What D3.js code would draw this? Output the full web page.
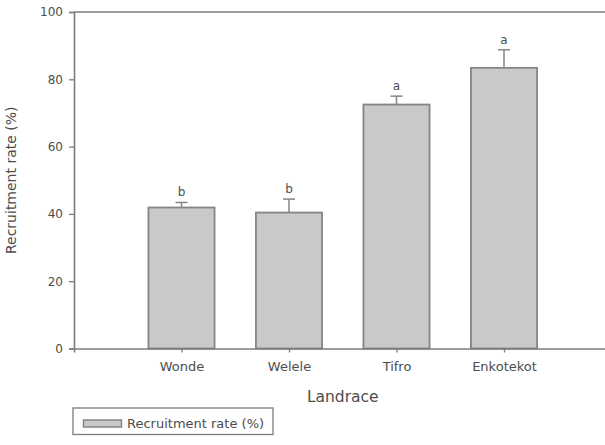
<!DOCTYPE html>
<html>
<head>
<meta charset="utf-8">
<script src="https://cdn.jsdelivr.net/npm/d3@7"></script>
<style>
  html, body { margin: 0; padding: 0; background: #fff; }
  svg { display: block; }
  text { font-family: "DejaVu Sans", sans-serif; fill: #4d4d4d; }
</style>
</head>
<body>
<svg id="chart" width="605" height="445"></svg>
<script>
// Recruitment rate per landrace (mean, upper standard error) and significance letters
const landraces = ["Wonde", "Welele", "Tifro", "Enkotekot"];
const recruitment = [41.9, 40.4, 72.5, 83.4];
const stdError = [1.5, 4.0, 2.5, 5.4];
const groupLetters = ["b", "b", "a", "a"];
const yTicks = [0, 20, 40, 60, 80, 100];
const seriesName = "Recruitment rate (%)";

const svg = d3.select("#chart");

const axisColor = "#7c7c7c";
const barFill = "#c9c9cb";
const barStroke = "#858585";

// Category positions 1..4 on a 0..5 axis
const x = d3.scaleLinear().domain([0, landraces.length + 1]).range([74, 611.5]);
const y = d3.scaleLinear().domain([0, 100]).range([348.5, 12]);
const unit = x(1) - x(0);
const barW = unit * 0.615;

// frame: top line
svg.append("line")
  .attr("x1", x(0)).attr("x2", x(landraces.length + 1))
  .attr("y1", y(100)).attr("y2", y(100))
  .attr("stroke", axisColor).attr("stroke-width", 1.6);

// bars
const g = svg.append("g");
g.selectAll("rect.bar").data(recruitment).join("rect")
  .attr("class", "bar")
  .attr("x", (d, i) => x(i + 1) - barW / 2)
  .attr("width", barW)
  .attr("y", d => y(d))
  .attr("height", d => y(0) - y(d))
  .attr("fill", barFill)
  .attr("stroke", barStroke)
  .attr("stroke-width", 1.8);

// upper error bars
g.selectAll("line.err").data(recruitment).join("line")
  .attr("class", "err")
  .attr("x1", (d, i) => x(i + 1)).attr("x2", (d, i) => x(i + 1))
  .attr("y1", d => y(d)).attr("y2", (d, i) => y(d + stdError[i]))
  .attr("stroke", barStroke).attr("stroke-width", 1.5);
g.selectAll("line.cap").data(recruitment).join("line")
  .attr("class", "cap")
  .attr("x1", (d, i) => x(i + 1) - 6).attr("x2", (d, i) => x(i + 1) + 6)
  .attr("y1", (d, i) => y(d + stdError[i])).attr("y2", (d, i) => y(d + stdError[i]))
  .attr("stroke", barStroke).attr("stroke-width", 1.5);

// significance letters
g.selectAll("text.letter").data(recruitment).join("text")
  .attr("class", "letter")
  .attr("x", (d, i) => x(i + 1))
  .attr("y", (d, i) => y(d + stdError[i]) - 6)
  .attr("text-anchor", "middle")
  .attr("font-size", 12)
  .text((d, i) => groupLetters[i]);

// y axis
const yAxis = svg.append("g")
  .attr("transform", `translate(${x(0)},0)`)
  .call(d3.axisLeft(y).tickValues(yTicks).tickSize(5).tickPadding(6).tickFormat(d3.format("d")));
yAxis.select(".domain").attr("stroke", axisColor).attr("stroke-width", 1.6);
yAxis.selectAll(".tick line").attr("stroke", axisColor).attr("stroke-width", 1.3);
yAxis.selectAll(".tick text").attr("font-size", 12).attr("font-family", "DejaVu Sans").attr("fill", "#4d4d4d");

// x axis
const xAxis = svg.append("g")
  .attr("transform", `translate(0,${y(0)})`)
  .call(d3.axisBottom(x)
    .tickValues(d3.range(1, landraces.length + 1))
    .tickSize(4).tickPadding(9)
    .tickFormat(d => landraces[d - 1]));
xAxis.select(".domain").attr("stroke", axisColor).attr("stroke-width", 1.6);
xAxis.selectAll(".tick line").attr("stroke", axisColor).attr("stroke-width", 1.3);
xAxis.selectAll(".tick text").attr("font-size", 13).attr("font-family", "DejaVu Sans").attr("fill", "#4d4d4d");

// axis titles
svg.append("text")
  .attr("x", (x(0) + x(landraces.length + 1)) / 2)
  .attr("y", 402)
  .attr("text-anchor", "middle")
  .attr("font-size", 15.5)
  .text("Landrace");

svg.append("text")
  .attr("transform", `translate(16,${(y(0) + y(100)) / 2}) rotate(-90)`)
  .attr("text-anchor", "middle")
  .attr("font-size", 14)
  .text(seriesName);

// legend
const legend = svg.append("g");
legend.append("rect")
  .attr("x", 73).attr("y", 408).attr("width", 200).attr("height", 26.5)
  .attr("fill", "#fff").attr("stroke", axisColor).attr("stroke-width", 1.3);
legend.append("rect")
  .attr("x", 83.5).attr("y", 420).attr("width", 38).attr("height", 7)
  .attr("fill", barFill).attr("stroke", barStroke).attr("stroke-width", 1.5);
legend.append("text")
  .attr("x", 127).attr("y", 428)
  .attr("font-size", 13)
  .text(seriesName);
</script>
</body>
</html>
